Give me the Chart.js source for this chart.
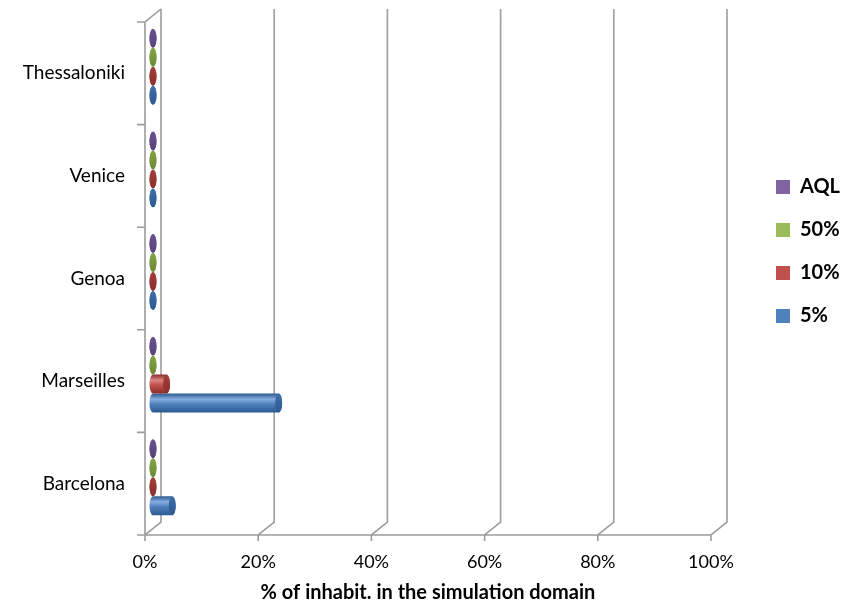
<!DOCTYPE html>
<html>
<head>
<meta charset="utf-8">
<script src="https://cdn.jsdelivr.net/npm/chart.js@4.4.0/dist/chart.umd.min.js"></script>
<style>
  html, body { margin: 0; padding: 0; background: #fff; }
</style>
</head>
<body>
<canvas id="chart" width="850" height="606"></canvas>
<script>
// categories, top to bottom as in the picture
const cities = ['Thessaloniki', 'Venice', 'Genoa', 'Marseilles', 'Barcelona'];
const seriesNames = ['AQL', '50%', '10%', '5%'];
// share of inhabitants (0..1)
const aqlValues = [0, 0, 0, 0, 0];
const p50Values = [0, 0, 0, 0, 0];
const p10Values = [0, 0, 0, 0.024, 0];
const p5Values = [0, 0, 0, 0.222, 0.034];
const xTickLabels = ['0%', '20%', '40%', '60%', '80%', '100%'];

// colours of each series: flat, highlight, shadow, end cap
const shades = [
    { base: '#8064A2', light: '#A68DC6', dark: '#57427A', cap: '#6A5290' },
    { base: '#9BBB59', light: '#BFD88C', dark: '#6C8935', cap: '#84A346' },
    { base: '#C0504D', light: '#DE8583', dark: '#892E2C', cap: '#A43F3C' },
    { base: '#4F81BD', light: '#85ACDF', dark: '#2C5990', cap: '#3E6EA9' }
];

const DX = 16, DY = -13;   // depth of the fake 3d box
const FONT = 'Lato, "Open Sans", sans-serif';

// back walls, floor and axis edges
const wallPlugin = {
    id: 'walls',
    beforeDatasetsDraw(chart) {
        const { ctx, chartArea: a, scales: { x, y } } = chart;
        ctx.save();
        ctx.strokeStyle = '#9c9c9c';
        ctx.lineWidth = 1.6;
        ctx.beginPath();
        x.ticks.forEach(t => {
            const px = x.getPixelForValue(t.value);
            ctx.moveTo(px + DX, a.top + DY);
            ctx.lineTo(px + DX, a.bottom + DY);
            ctx.lineTo(px, a.bottom);
            ctx.lineTo(px, a.bottom + 6);
        });
        ctx.moveTo(a.left + DX, a.top + DY);
        ctx.lineTo(a.left, a.top);
        ctx.lineTo(a.left, a.bottom + 6);
        ctx.moveTo(a.left - 8, a.bottom);
        ctx.lineTo(a.right, a.bottom);
        for (let i = 0; i < cities.length; i++) {
            const yy = i === 0 ? a.top : (y.getPixelForValue(i - 1) + y.getPixelForValue(i)) / 2;
            ctx.moveTo(a.left - 8, yy);
            ctx.lineTo(a.left, yy);
        }
        ctx.stroke();
        ctx.restore();
    }
};

// bars drawn as cylinders, in the middle of the box depth
const cylinderPlugin = {
    id: 'cylinders',
    beforeDatasetDraw(chart, args) {
        const ctx = chart.ctx;
        const s = shades[args.index];
        const rx = 3.5;
        args.meta.data.forEach(bar => {
            const r = bar.height / 2;
            const x0 = bar.base + DX / 2;
            const x1 = bar.x + DX / 2;
            const cy = bar.y + DY / 2;
            ctx.save();
            const g = ctx.createLinearGradient(0, cy - r, 0, cy + r);
            g.addColorStop(0, s.dark);
            g.addColorStop(0.3, s.light);
            g.addColorStop(0.55, s.base);
            g.addColorStop(1, s.dark);
            ctx.beginPath();
            ctx.moveTo(x0, cy - r);
            ctx.lineTo(x1, cy - r);
            ctx.ellipse(x1, cy, rx, r, 0, -Math.PI / 2, Math.PI / 2);
            ctx.lineTo(x0, cy + r);
            ctx.ellipse(x0, cy, rx, r, 0, Math.PI / 2, Math.PI * 1.5);
            ctx.closePath();
            ctx.fillStyle = g;
            ctx.fill();
            const cg = ctx.createLinearGradient(0, cy - r, 0, cy + r);
            cg.addColorStop(0, s.cap);
            cg.addColorStop(1, s.dark);
            ctx.beginPath();
            ctx.ellipse(x1, cy, rx, r * 0.97, 0, 0, Math.PI * 2);
            ctx.fillStyle = cg;
            ctx.fill();
            ctx.restore();
        });
        return false;
    }
};

const seriesValues = [aqlValues, p50Values, p10Values, p5Values];

new Chart(document.getElementById('chart'), {
    type: 'bar',
    data: {
        labels: cities,
        datasets: seriesNames.map((name, i) => ({
            label: name,
            data: seriesValues[i],
            backgroundColor: shades[i].base,
            borderWidth: 0,
            categoryPercentage: 0.74,
            barPercentage: 1.0
        }))
    },
    options: {
        indexAxis: 'y',
        responsive: false,
        animation: false,
        devicePixelRatio: 1,
        layout: { padding: { top: 22, left: 0, right: 0, bottom: 0 } },
        scales: {
            x: {
                min: 0,
                max: 1,
                ticks: {
                    stepSize: 0.2,
                    padding: 16,
                    color: '#000',
                    font: { family: FONT, size: 18 },
                    callback: (v, i) => xTickLabels[i]
                },
                grid: { display: false, drawTicks: false },
                border: { display: false },
                title: {
                    display: true,
                    text: '% of inhabit. in the simulation domain',
                    color: '#000',
                    font: { family: FONT, size: 20, weight: 'bold' },
                    padding: { top: 0, bottom: 1 }
                },
                afterFit: s => { s.height = 71; }
            },
            y: {
                ticks: {
                    padding: 20,
                    color: '#000',
                    font: { family: FONT, size: 19 }
                },
                grid: { display: false, drawTicks: false },
                border: { display: false },
                afterFit: s => {
                    s.width = 145;
                    s.paddingTop = 0;
                    s.paddingBottom = 0;
                }
            },
            spacer: {
                axis: 'y',
                position: 'right',
                display: true,
                ticks: { display: false },
                grid: { display: false, drawTicks: false },
                border: { display: false },
                afterFit: s => { s.width = 42; }
            }
        },
        plugins: {
            legend: {
                position: 'right',
                align: 'start',
                title: { display: true, text: ' ', font: { size: 10 }, padding: { top: 120, bottom: 0 } },
                labels: {
                    boxWidth: 14,
                    boxHeight: 14,
                    padding: 23,
                    color: '#000',
                    font: { family: FONT, size: 20, weight: 'bold' }
                }
            },
            tooltip: { enabled: false }
        }
    },
    plugins: [wallPlugin, cylinderPlugin]
});
</script>
</body>
</html>
